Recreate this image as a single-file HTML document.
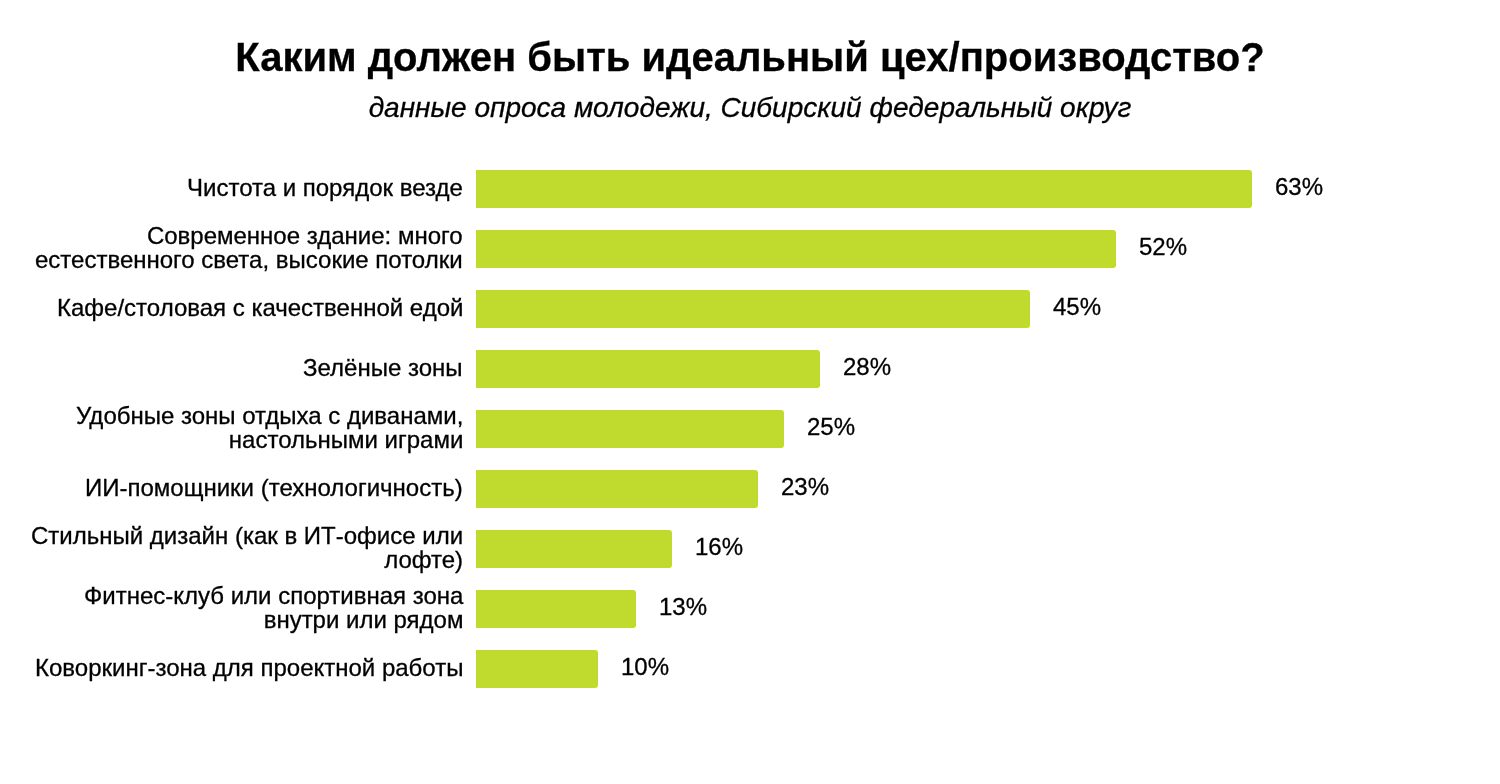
<!DOCTYPE html>
<html lang="ru">
<head>
<meta charset="utf-8">
<style>
html,body{margin:0;padding:0;background:#fff;}
body{width:1500px;height:784px;position:relative;overflow:hidden;-webkit-font-smoothing:antialiased;-webkit-text-stroke:0.3px #000;font-family:"Liberation Sans",sans-serif;color:#000;}
.title{will-change:transform;position:absolute;left:0;width:1500px;top:34px;text-align:center;font-size:40px;font-weight:bold;line-height:46px;white-space:nowrap;}
.sub{will-change:transform;position:absolute;left:0;width:1500px;top:92px;text-align:center;font-size:28px;font-style:italic;line-height:32px;white-space:nowrap;}
.lbl{will-change:transform;position:absolute;right:1037px;font-size:24px;line-height:24px;text-align:right;white-space:nowrap;}
.bar{position:absolute;left:476px;height:38px;background:#C0DA2E;border-radius:0 3px 3px 0;}
.pct{will-change:transform;position:absolute;font-size:24px;line-height:24px;white-space:nowrap;}
</style>
</head>
<body>
<div class="title">Каким должен быть идеальный цех/производство?</div>
<div class="sub">данные опроса молодежи, Сибирский федеральный округ</div>

<div class="lbl" style="top:176px">Чистота и порядок везде</div>
<div class="bar" style="top:170px;width:776px"></div>
<div class="pct" style="top:175px;left:1275px">63%</div>

<div class="lbl" style="top:224px">Современное здание: много<br>естественного света, высокие потолки</div>
<div class="bar" style="top:230px;width:640px"></div>
<div class="pct" style="top:235px;left:1139px">52%</div>

<div class="lbl" style="top:296px">Кафе/столовая с качественной едой</div>
<div class="bar" style="top:290px;width:554px"></div>
<div class="pct" style="top:295px;left:1053px">45%</div>

<div class="lbl" style="top:356px">Зелёные зоны</div>
<div class="bar" style="top:350px;width:344px"></div>
<div class="pct" style="top:355px;left:843px">28%</div>

<div class="lbl" style="top:404px">Удобные зоны отдыха с диванами,<br>настольными играми</div>
<div class="bar" style="top:410px;width:308px"></div>
<div class="pct" style="top:415px;left:807px">25%</div>

<div class="lbl" style="top:476px">ИИ-помощники (технологичность)</div>
<div class="bar" style="top:470px;width:282px"></div>
<div class="pct" style="top:475px;left:781px">23%</div>

<div class="lbl" style="top:524px">Стильный дизайн (как в ИТ-офисе или<br>лофте)</div>
<div class="bar" style="top:530px;width:196px"></div>
<div class="pct" style="top:535px;left:695px">16%</div>

<div class="lbl" style="top:584px">Фитнес-клуб или спортивная зона<br>внутри или рядом</div>
<div class="bar" style="top:590px;width:160px"></div>
<div class="pct" style="top:595px;left:659px">13%</div>

<div class="lbl" style="top:656px">Коворкинг-зона для проектной работы</div>
<div class="bar" style="top:650px;width:122px"></div>
<div class="pct" style="top:655px;left:621px">10%</div>
</body>
</html>
